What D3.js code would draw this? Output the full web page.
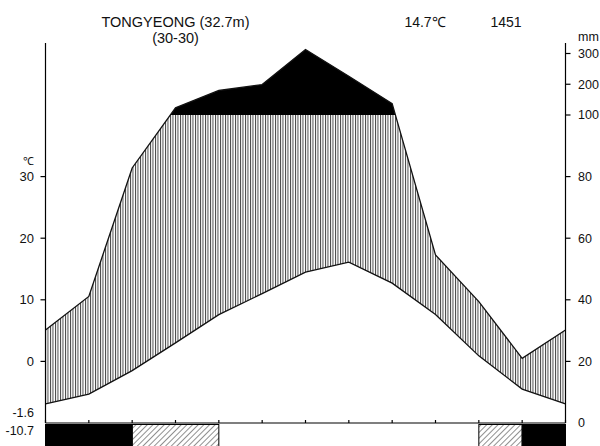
<!DOCTYPE html>
<html><head><meta charset="utf-8">
<script src="https://cdn.jsdelivr.net/npm/d3@7"></script>
<style>body{margin:0;background:#fff}svg{display:block}text{font-family:"Liberation Sans",Arial,sans-serif;fill:#111}</style>
</head><body><svg id="c" width="600" height="446"></svg>
<script>
// ---- data ----
const months = ["Jan","Feb","Mar","Apr","May","Jun","Jul","Aug","Sep","Oct","Nov","Dec"];
const precip = [30.2, 41.1, 82.8, 123.4, 179.7, 199.0, 313.0, 226.0, 137.0, 54.6, 39.4, 21.0];
const temp = [3.1, 4.7, 8.5, 13.0, 17.6, 21.0, 24.5, 26.1, 22.7, 17.6, 10.9, 5.5];
const frost = ["sure","sure","probable","probable","none","none","none","none","none","none","probable","sure"];
const tempTicks = [0, 10, 20, 30];
const precipTicks = [0, 20, 40, 60, 80, 100, 200, 300];
const titleLines = ["TONGYEONG (32.7m)", "(30-30)"];
const annualTemp = "14.7℃";
const annualPrecip = "1451";
const minLabels = ["-1.6", "-10.7"];

// ---- layout ----
const svg = d3.select("#c");
const L = 45.5, R = 565.5, B = 423, T100 = 115, TOP = 43;
const x = d3.scaleLinear().domain([0, 12]).range([L, R]);
const pY = d3.scaleLinear().domain([0, 100, 400]).range([B, T100, T100 - 300 * 0.3075]);
const tDataY = d3.scaleLinear().domain([0, 50]).range([B, T100]);
const tAxisY = d3.scaleLinear().domain([-10, 40]).range([B, T100]);

const defs = svg.append("defs");
const vp = defs.append("pattern").attr("id", "vh").attr("patternUnits", "userSpaceOnUse")
  .attr("width", 2.5).attr("height", 10);
vp.append("line").attr("x1", 0.5).attr("x2", 0.5).attr("y1", 0).attr("y2", 10)
  .attr("stroke", "#333").attr("stroke-width", 0.9);
const dp = defs.append("pattern").attr("id", "dh").attr("patternUnits", "userSpaceOnUse")
  .attr("width", 4).attr("height", 4).attr("patternTransform", "rotate(45)");
dp.append("line").attr("x1", 0).attr("x2", 0).attr("y1", 0).attr("y2", 4)
  .attr("stroke", "#222").attr("stroke-width", 1);
defs.append("clipPath").attr("id", "below100").append("rect")
  .attr("x", 0).attr("y", T100).attr("width", 600).attr("height", B - T100);
defs.append("clipPath").attr("id", "above100").append("rect")
  .attr("x", 0).attr("y", 0).attr("width", 600).attr("height", T100);

// wrap Jan at the end
const idx = d3.range(13);
const pv = i => precip[i % 12];
const tv = i => temp[i % 12];

// humid hatch
svg.append("path").datum(idx)
  .attr("clip-path", "url(#below100)")
  .attr("d", d3.area().x(i => x(i)).y0(i => tDataY(tv(i))).y1(i => pY(pv(i))))
  .attr("fill", "url(#vh)");
// very humid (black)
svg.append("path").datum(idx)
  .attr("clip-path", "url(#above100)")
  .attr("d", d3.area().x(i => x(i)).y0(T100 + 2).y1(i => pY(pv(i))))
  .attr("fill", "#000");
// lines
svg.append("path").datum(idx)
  .attr("d", d3.line().x(i => x(i)).y(i => pY(pv(i))))
  .attr("fill", "none").attr("stroke", "#111").attr("stroke-width", 1.3);
svg.append("path").datum(idx)
  .attr("d", d3.line().x(i => x(i)).y(i => tDataY(tv(i))))
  .attr("fill", "none").attr("stroke", "#111").attr("stroke-width", 1.3);

// frost bars: merge consecutive months of the same kind
const runs = [];
frost.forEach((f, i) => {
  if (f === "none") return;
  const last = runs[runs.length - 1];
  if (last && last.kind === f && last.end === i) last.end = i + 1;
  else runs.push({kind: f, start: i, end: i + 1});
});
svg.append("g").selectAll("rect").data(runs).join("rect")
  .attr("x", d => x(d.start)).attr("y", B + 1.5)
  .attr("width", d => x(d.end) - x(d.start)).attr("height", 30)
  .attr("fill", d => d.kind === "sure" ? "#000" : "url(#dh)")
  .attr("stroke", "#000").attr("stroke-width", 1);

// axes
const ax = svg.append("g").attr("stroke", "#000").attr("stroke-width", 1.2);
ax.append("line").attr("x1", L).attr("x2", L).attr("y1", TOP).attr("y2", B);
ax.append("line").attr("x1", R).attr("x2", R).attr("y1", TOP).attr("y2", B);
ax.append("line").attr("x1", L).attr("x2", R).attr("y1", B).attr("y2", B);
idx.forEach(i => ax.append("line").attr("x1", x(i)).attr("x2", x(i)).attr("y1", B - 3).attr("y2", B));

tempTicks.forEach(t => {
  ax.append("line").attr("x1", L - 5).attr("x2", L).attr("y1", tAxisY(t)).attr("y2", tAxisY(t));
  svg.append("text").attr("x", 34).attr("y", tAxisY(t)).attr("dy", "0.35em")
    .attr("text-anchor", "end").attr("font-size", 13).text(t);
});
svg.append("text").attr("x", 34).attr("y", tAxisY(30) - 15).attr("dy", "0.35em")
  .attr("text-anchor", "end").attr("font-size", 11).text("℃");
svg.append("text").attr("x", 34).attr("y", 413).attr("dy", "0.35em")
  .attr("text-anchor", "end").attr("font-size", 12.5).text(minLabels[0]);
svg.append("text").attr("x", 34).attr("y", 431).attr("dy", "0.35em")
  .attr("text-anchor", "end").attr("font-size", 12.5).text(minLabels[1]);

precipTicks.forEach(p => {
  if (p > 0) ax.append("line").attr("x1", R).attr("x2", R + 5).attr("y1", pY(p)).attr("y2", pY(p));
  svg.append("text").attr("x", 578).attr("y", pY(p)).attr("dy", "0.35em")
    .attr("font-size", 12.5).text(p);
});
svg.append("text").attr("x", 578).attr("y", 41).attr("font-size", 12.5).text("mm");

// titles
const tt = svg.append("text").attr("text-anchor", "middle").attr("font-size", 14.5);
tt.append("tspan").attr("x", 175.5).attr("y", 26.5).text(titleLines[0]);
tt.append("tspan").attr("x", 175.5).attr("y", 43).text(titleLines[1]);
svg.append("text").attr("x", 425).attr("y", 26.5).attr("text-anchor", "middle").attr("font-size", 14).text(annualTemp);
svg.append("text").attr("x", 506).attr("y", 26.5).attr("text-anchor", "middle").attr("font-size", 14).text(annualPrecip);
</script></body></html>
